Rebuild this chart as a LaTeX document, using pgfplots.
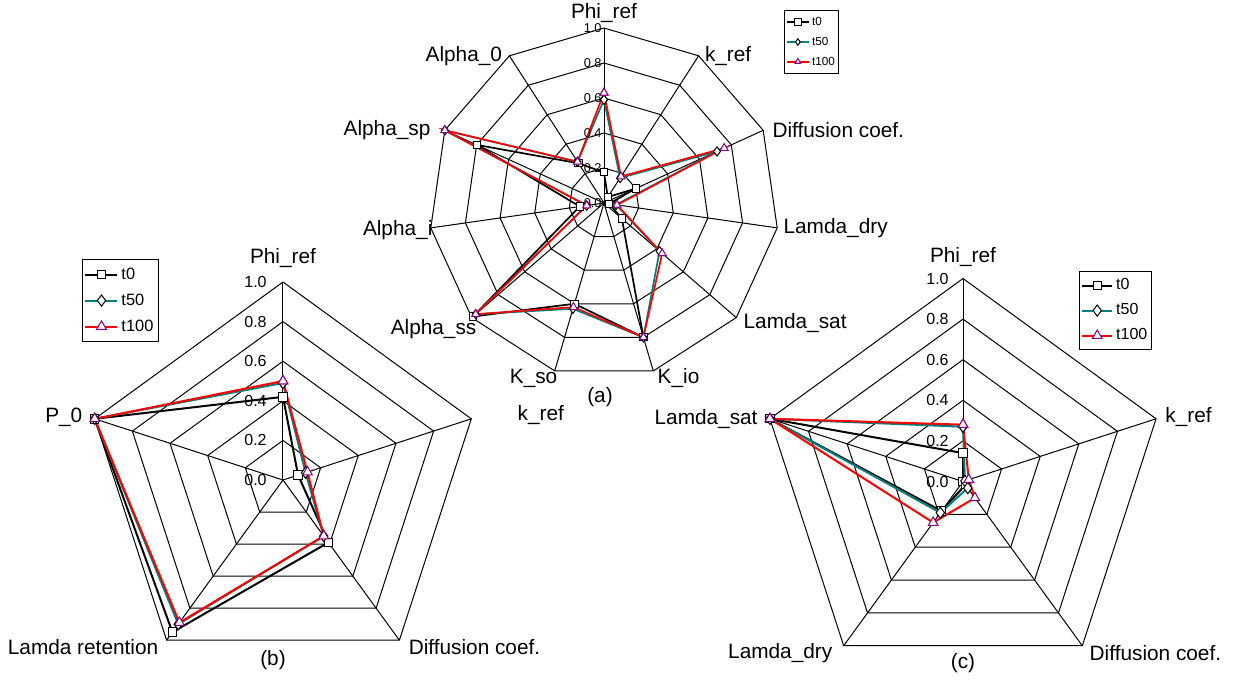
\documentclass[border=0pt]{standalone}
\usepackage{fontspec}
\setmainfont{Liberation Sans}
\usepackage{pgfplots}
\usepackage{pgfplotstable}
\pgfplotsset{compat=1.18}
\usepgfplotslibrary{polar}
\definecolor{tealc}{RGB}{0,128,128}
\definecolor{purp}{RGB}{128,0,128}

\pgfplotstableread{
ang t0 t50 t100
90 0.175 0.59 0.63
57.2727 0.04 0.17 0.18
24.5455 0.20 0.71 0.755
351.8182 0.03 0.07 0.075
319.0909 0.135 0.42 0.44
286.3636 0.80 0.80 0.80
253.6364 0.60 0.63 0.62
220.9091 0.99 0.97 0.97
188.1818 0.14 0.10 0.10
155.4545 0.80 1.00 1.00
122.7273 0.27 0.28 0.28
90 0.175 0.59 0.63
}\dataa

\pgfplotstableread{
ang t0 t50 t100
90 0.42 0.49 0.50
18 0.08 0.12 0.13
306 0.39 0.35 0.35
234 0.95 0.90 0.89
162 1.00 1.00 1.00
90 0.42 0.49 0.50
}\datab

\pgfplotstableread{
ang t0 t50 t100
90 0.14 0.27 0.28
18 0.00 0.01 0.03
306 0.02 0.04 0.10
234 0.18 0.19 0.25
162 1.00 1.00 1.00
90 0.14 0.27 0.28
}\datac

\pgfplotsset{
  radar/.style={hide axis, scale only axis, ymin=0, ymax=1, xmin=0, xmax=360,
    clip=false, anchor=origin, legend cell align=left},
  gridl/.style={black, line width=0.5pt, no markers, forget plot},
  s0/.style={black, line width=#1, mark=square*, mark options={solid, fill=white, draw=black, line width=0.5pt}},
  s50/.style={tealc, line width=#1, mark=diamond*, mark options={solid, fill=white, draw=black, line width=0.5pt}},
  s100/.style={red, line width=#1, mark=triangle*, mark options={solid, fill=white, draw=purp, line width=0.5pt}},
}
\tikzset{cat/.style={font=\fontsize{10.4pt}{12pt}\selectfont, inner sep=0pt}}

\begin{document}
\begin{tikzpicture}
\path[use as bounding box] (0,0) rectangle (616.5pt,-341pt);

% ---------------- (a) ----------------
\begin{polaraxis}[radar, at={(302pt,-101.5pt)}, width=175pt, height=175pt,
  legend style={at={(1.014,1.051)}, anchor=north west, draw=black, line width=0.5pt,
    fill=white, inner sep=0.8pt, row sep=0pt, column sep=0pt,
    font=\fontsize{5.85pt}{6pt}\selectfont,
    nodes={inner xsep=1.2pt, inner ysep=1.9pt, text height=4.8pt, text depth=1.3pt}},
  legend image code/.code={\draw[mark repeat=2,mark phase=2, mark size=1.6pt] plot coordinates {(0pt,0pt)(5.5pt,0pt)(11pt,0pt)};}]
\pgfplotsinvokeforeach{0.2,0.4,0.6,0.8,1.0}{
  \addplot[gridl] coordinates {(90,#1)(57.2727,#1)(24.5455,#1)(351.8182,#1)(319.0909,#1)(286.3636,#1)(253.6364,#1)(220.9091,#1)(188.1818,#1)(155.4545,#1)(122.7273,#1)(90,#1)};
}
\pgfplotsinvokeforeach{90,57.2727,24.5455,351.8182,319.0909,286.3636,253.6364,220.9091,188.1818,155.4545,122.7273}{
  \addplot[gridl] coordinates {(#1,0)(#1,1)};
}
\addplot[s0=0.85pt, mark size=1.8pt] table[x=ang,y=t0]{\dataa};
\addplot[s50=0.85pt, mark size=2.3pt] table[x=ang,y=t50]{\dataa};
\addplot[s100=0.85pt, mark size=2.3pt] table[x=ang,y=t100]{\dataa};
\legend{t0,t50,t100}
\pgfplotsinvokeforeach{0.0,0.2,0.4,0.6,0.8,1.0}{
  \node[anchor=east, inner sep=0pt, xshift=-1pt, font=\fontsize{6.4pt}{7pt}\selectfont] at (axis cs:90,#1) {#1};
}
\node[cat, anchor=center, yshift=7.5pt] at (axis cs:90,1) {Phi\_ref};
\node[cat, anchor=west, xshift=3pt] at (axis cs:57.2727,1) {k\_ref};
\node[cat, anchor=west, xshift=4.5pt] at (axis cs:24.5455,1) {Diffusion coef.};
\node[cat, anchor=west, xshift=3pt] at (axis cs:351.8182,1) {Lamda\_dry};
\node[cat, anchor=west, xshift=3.5pt, yshift=-2.5pt] at (axis cs:319.0909,1) {Lamda\_sat};
\node[cat, anchor=west, xshift=2pt, yshift=-3.5pt] at (axis cs:286.3636,1) {K\_io};
\node[cat, anchor=east, xshift=1.5pt, yshift=-3.5pt] at (axis cs:253.6364,1) {K\_so};
\node[cat, anchor=east, xshift=2.5pt, yshift=-6pt] at (axis cs:220.9091,1) {Alpha\_ss};
\node[cat, anchor=east, xshift=1pt, yshift=-1pt] at (axis cs:188.1818,1) {Alpha\_i};
\node[cat, anchor=east, xshift=-7pt] at (axis cs:155.4545,1) {Alpha\_sp};
\node[cat, anchor=east, xshift=-3.5pt] at (axis cs:122.7273,1) {Alpha\_0};
\node[cat, yshift=-97pt, xshift=-2pt] at (axis cs:270,0) {(a)};
\end{polaraxis}

% ---------------- (b) ----------------
\begin{polaraxis}[radar, at={(141.5pt,-240pt)}, width=198pt, height=198pt,
  legend style={at={(-0.0076,1.058)}, anchor=north west, draw=black, line width=0.5pt,
    fill=white, inner sep=1pt, row sep=0pt, column sep=0pt,
    font=\fontsize{8.2pt}{9pt}\selectfont,
    nodes={inner xsep=1.5pt, inner ysep=2.25pt, text height=6.5pt, text depth=2pt}},
  legend image code/.code={\draw[mark repeat=2,mark phase=2] plot coordinates {(0pt,0pt)(8pt,0pt)(16pt,0pt)};}]
\pgfplotsinvokeforeach{0.2,0.4,0.6,0.8,1.0}{
  \addplot[gridl] coordinates {(90,#1)(18,#1)(306,#1)(234,#1)(162,#1)(90,#1)};
}
\pgfplotsinvokeforeach{90,18,306,234,162}{
  \addplot[gridl] coordinates {(#1,0)(#1,1)};
}
\addplot[s0=1pt, mark size=2.1pt] table[x=ang,y=t0]{\datab};
\addplot[s50=1pt, mark size=2.8pt] table[x=ang,y=t50]{\datab};
\addplot[s100=1pt, mark size=2.8pt] table[x=ang,y=t100]{\datab};
\legend{t0,t50,t100}
\pgfplotsinvokeforeach{0.0,0.2,0.4,0.6,0.8,1.0}{
  \node[anchor=east, inner sep=0pt, xshift=-8pt, font=\fontsize{8pt}{9pt}\selectfont] at (axis cs:90,#1) {#1};
}
\node[cat, anchor=center, yshift=12pt] at (axis cs:90,1) {Phi\_ref};
\node[cat, anchor=west, xshift=23pt, yshift=2pt] at (axis cs:18,1) {k\_ref};
\node[cat, anchor=west, xshift=4.5pt, yshift=-3.5pt] at (axis cs:306,1) {Diffusion coef.};
\node[cat, anchor=east, xshift=-4pt, yshift=-3.5pt] at (axis cs:234,1) {Lamda retention};
\node[cat, anchor=east, xshift=-6pt, yshift=1pt] at (axis cs:162,1) {P\_0};
\node[cat, yshift=-90pt, xshift=-5pt] at (axis cs:270,0) {(b)};
\end{polaraxis}

% ---------------- (c) ----------------
\begin{polaraxis}[radar, at={(481.5pt,-240.75pt)}, width=203pt, height=203pt,
  legend style={at={(0.786,1.0185)}, anchor=north west, draw=black, line width=0.5pt,
    fill=white, inner sep=0.8pt, row sep=0pt, column sep=0pt,
    font=\fontsize{8pt}{9pt}\selectfont,
    nodes={inner xsep=1.5pt, inner ysep=2.1pt, text height=6.3pt, text depth=2pt}},
  legend image code/.code={\draw[mark repeat=2,mark phase=2] plot coordinates {(0pt,0pt)(7.5pt,0pt)(15pt,0pt)};}]
\pgfplotsinvokeforeach{0.2,0.4,0.6,0.8,1.0}{
  \addplot[gridl] coordinates {(90,#1)(18,#1)(306,#1)(234,#1)(162,#1)(90,#1)};
}
\pgfplotsinvokeforeach{90,18,306,234,162}{
  \addplot[gridl] coordinates {(#1,0)(#1,1)};
}
\addplot[s0=1pt, mark size=2.1pt] table[x=ang,y=t0]{\datac};
\addplot[s50=1pt, mark size=2.8pt] table[x=ang,y=t50]{\datac};
\addplot[s100=1pt, mark size=2.8pt] table[x=ang,y=t100]{\datac};
\legend{t0,t50,t100}
\pgfplotsinvokeforeach{0.0,0.2,0.4,0.6,0.8,1.0}{
  \node[anchor=east, inner sep=0pt, xshift=-7pt, font=\fontsize{8pt}{9pt}\selectfont] at (axis cs:90,#1) {#1};
}
\node[cat, anchor=center, yshift=10.75pt] at (axis cs:90,1) {Phi\_ref};
\node[cat, anchor=west, xshift=4.5pt, yshift=1pt] at (axis cs:18,1) {k\_ref};
\node[cat, anchor=west, xshift=3.5pt, yshift=-3.5pt] at (axis cs:306,1) {Diffusion coef.};
\node[cat, anchor=east, xshift=-5.5pt, yshift=-3.5pt] at (axis cs:234,1) {Lamda\_dry};
\node[cat, anchor=east, xshift=-6pt] at (axis cs:162,1) {Lamda\_sat};
\node[cat, yshift=-90.75pt] at (axis cs:270,0) {(c)};
\end{polaraxis}
\end{tikzpicture}
\end{document}
